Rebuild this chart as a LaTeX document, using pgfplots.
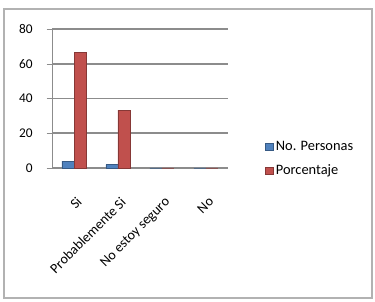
\documentclass[border=0pt]{standalone}
\usepackage{fontspec}
\setmainfont{Carlito}
\usepackage{pgfplots}
\pgfplotsset{compat=1.18}
\definecolor{xlblue}{HTML}{4F81BD}
\definecolor{xlred}{HTML}{C0504D}
\definecolor{gridgray}{HTML}{8C8C8C}
\begin{document}
\begin{tikzpicture}[x=0.75pt,y=0.75pt]
\useasboundingbox (0,0) rectangle (375,302);
\draw[line width=1.2pt, color=black!30] (4,4) rectangle (372,293);
\begin{axis}[
  at={(52*0.75pt,134*0.75pt)}, anchor=south west,
  scale only axis,
  width=132pt, height=104.25pt,
  xmin=-0.5, xmax=3.5,
  ymin=0, ymax=80,
  ytick={0,20,40,60,80},
  xtick={0,1,2,3},
  xticklabels={Si,Probablemente Si,No estoy seguro,No},
  x tick label style={rotate=45, anchor=north east, inner sep=1pt, yshift=-12pt, xshift=-10pt,
    font=\fontsize{10.5}{12}\selectfont},
  extra x ticks={-0.5,0.5,1.5,2.5,3.5},
  extra x tick labels={},
  extra x tick style={major tick length=4pt, tick style={gridgray}, tick align=outside},
  major x tick style={draw=none},
  ymajorgrids,
  grid style={line width=1.2pt, color=gridgray},
  axis line style={gridgray},
  axis x line*=bottom,
  axis y line*=left,
  y tick style={gridgray},
  tick align=outside,
  major tick length=4pt,
  y tick label style={font=\fontsize{10}{12}\selectfont, xshift=-7pt},
  /pgf/number format/assume math mode=true,
  ybar, bar width=9pt,
  legend style={draw=none, fill=none, at={(1.21,0.065)}, anchor=west,
    font=\fontsize{10.8}{12}\selectfont, row sep=5pt, inner sep=0pt},
  legend cell align=left,
  legend image code/.code={\fill[#1] (0pt,-2.8pt) rectangle (5.6pt,2.8pt);},
  clip=false,
]
\addplot[fill=xlblue, draw=xlblue!70!black, bar shift=-4.5pt] coordinates {(0,4) (1,2) (2,0) (3,0)};
\addplot[fill=xlred, draw=xlred!70!black, bar shift=4.5pt] coordinates {(0,66.67) (1,33.33) (2,0) (3,0)};
\legend{No. Personas, Porcentaje}
\end{axis}
\end{tikzpicture}
\end{document}
